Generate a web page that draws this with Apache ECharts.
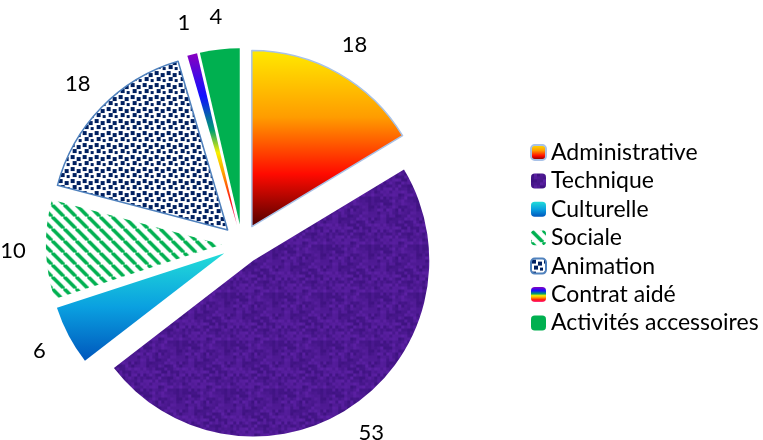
<!DOCTYPE html>
<html>
<head>
<meta charset="utf-8">
<script src="https://cdn.jsdelivr.net/npm/echarts@6/dist/echarts.min.js"></script>
<style>
    html, body {margin: 0; padding: 0; background: #fff;}
    #chart {width: 763px; height: 440px;}
</style>
</head>
<body>
<div id="chart"></div>
<script>
const categories = ['Administrative', 'Technique', 'Culturelle', 'Sociale', 'Animation', 'Contrat aidé', 'Activités accessoires'];
const values = [18, 53, 6, 10, 18, 1, 4];

const cx = 242, cy = 244, radius = 176, explode = 20;
const labelDist = 226, labelSize = 22;

function makeTile(w, h, draw) {
    let c = document.createElement('canvas');
    c.width = w;
    c.height = h;
    draw(c.getContext('2d'));
    return c;
}

// green wide diagonal stripes (Sociale)
let stripeTile = makeTile(12, 12, function (ctx) {
    ctx.fillStyle = '#fff';
    ctx.fillRect(0, 0, 12, 12);
    ctx.strokeStyle = '#00b050';
    ctx.lineWidth = 3.6;
    for (let k = -12; k <= 12; k += 12) {
        ctx.beginPath();
        ctx.moveTo(k, 0);
        ctx.lineTo(k + 12, 12);
        ctx.stroke();
    }
});

// navy confetti squares (Animation)
let dotTile = makeTile(12, 12, function (ctx) {
    ctx.fillStyle = '#fff';
    ctx.fillRect(0, 0, 12, 12);
    ctx.fillStyle = '#002060';
    [[1, 1], [7, 3], [3, 7], [9, 9]].forEach(function (p) {
        ctx.fillRect(p[0], p[1], 4, 4);
    });
});

// mottled purple texture (Technique), deterministic
let purpleTile = makeTile(48, 48, function (ctx) {
    for (let i = 0; i < 16; i++) {
        for (let j = 0; j < 16; j++) {
            let s = Math.sin(i * 12.9898 + j * 78.233) * 43758.5453;
            let v = s - Math.floor(s);
            let r = Math.round(62 + 30 * v), g = Math.round(18 + 14 * v), b = Math.round(128 + 36 * v);
            ctx.fillStyle = 'rgb(' + r + ',' + g + ',' + b + ')';
            ctx.fillRect(i * 3, j * 3, 3, 3);
        }
    }
});

const itemStyles = [
    {
        color: new echarts.graphic.LinearGradient(0, 0, 0, 1, [
            {offset: 0, color: '#ffea00'},
            {offset: 0.38, color: '#ff9c00'},
            {offset: 0.7, color: '#ff0a00'},
            {offset: 1, color: '#4e0000'}
        ]),
        borderColor: '#a8c2e8', borderWidth: 1.5
    },
    {color: {image: purpleTile, repeat: 'repeat'}},
    {
        color: new echarts.graphic.LinearGradient(0, 0, 0, 1, [
            {offset: 0, color: '#22dcd8'},
            {offset: 0.5, color: '#0aa0e0'},
            {offset: 1, color: '#0056bc'}
        ])
    },
    {color: {image: stripeTile, repeat: 'repeat'}},
    {color: {image: dotTile, repeat: 'repeat'}, borderColor: '#4f81bd', borderWidth: 1.5},
    {
        color: new echarts.graphic.LinearGradient(0, 0, 0, 1, [
            {offset: 0, color: '#8a00c0'},
            {offset: 0.25, color: '#1010ff'},
            {offset: 0.45, color: '#00a070'},
            {offset: 0.58, color: '#f8f000'},
            {offset: 0.72, color: '#ff9000'},
            {offset: 0.86, color: '#ff1010'},
            {offset: 1, color: '#ff3090'}
        ])
    },
    {color: '#00b050'}
];

let pieData = categories.map(function (name, i) {
    return {name: name, value: values[i], selected: true, itemStyle: itemStyles[i]};
});

// value labels: an invisible pie twice the label distance, labels sit "inside" at its mid radius
let labelData = categories.map(function (name, i) {
    return {name: name, value: values[i]};
});

let chart = echarts.init(document.getElementById('chart'));
chart.setOption({
    animation: false,
    backgroundColor: '#fff',
    textStyle: {fontFamily: 'Lato'},
    legend: {
        orient: 'vertical',
        left: 525,
        top: 136,
        itemWidth: 15,
        itemHeight: 15,
        itemGap: 5.4,
        selectedMode: false,
        data: categories,
        textStyle: {fontSize: 23, color: '#000', fontFamily: 'Lato'}
    },
    series: [{
        type: 'pie',
        center: [cx, cy],
        radius: radius,
        startAngle: 90,
        clockwise: true,
        selectedMode: 'multiple',
        selectedOffset: explode,
        emphasis: {disabled: true},
        label: {show: false},
        labelLine: {show: false},
        data: pieData
    }, {
        type: 'pie',
        center: [cx, cy],
        radius: [0, labelDist * 2],
        startAngle: 90,
        clockwise: true,
        silent: true,
        z: 3,
        emphasis: {disabled: true},
        itemStyle: {color: 'rgba(0,0,0,0)'},
        label: {
            show: true,
            position: 'inside',
            formatter: '{c}',
            fontSize: labelSize,
            color: '#000',
            fontFamily: 'Lato'
        },
        labelLine: {show: false},
        data: labelData
    }]
});
</script>
</body>
</html>
